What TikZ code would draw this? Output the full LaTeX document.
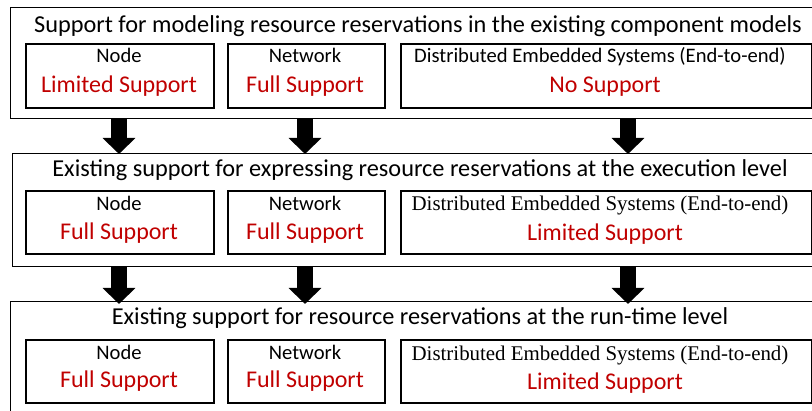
\documentclass[tikz,border=0pt]{standalone}
\usepackage{fontspec}
\setmainfont{Carlito}
\newfontfamily\serifdes{Liberation Serif}
\usetikzlibrary{arrows.meta}
\definecolor{supred}{RGB}{192,0,0}

\begin{document}
\begin{tikzpicture}[x=1pt,y=-1pt,
  outerbox/.style={draw=black, line width=1.3pt, anchor=north west, inner sep=0pt},
  innerbox/.style={draw=black, line width=1.7pt, anchor=north west, inner sep=0pt},
  titletext/.style={anchor=base, inner sep=0pt, font=\fontsize{24.3}{25}\selectfont},
  lbl/.style={anchor=base, inner sep=0pt, font=\fontsize{20.6}{21}\selectfont},
  deslbl/.style={anchor=base, inner sep=0pt, font=\serifdes\fontsize{20.9}{21}\selectfont},
  status/.style={anchor=base, inner sep=0pt, text=supred, font=\fontsize{24}{24}\selectfont},
  bigarrow/.style={line width=16pt, line cap=butt, -{Triangle[width=32pt,length=16pt]}}
]
\useasboundingbox (0,0) rectangle (812,411);
\clip (0,0) rectangle (812,411);

% ---- level 1: component models ----
\node[outerbox, minimum width=820pt, minimum height=111pt] (r1) at (10,7) {};
\node[titletext] (t1) at (418,33) {Support for modeling resource reservations in the existing component models};
\node[innerbox, minimum width=188pt, minimum height=64pt] (n1) at (25,43) {};
\node[innerbox, minimum width=157pt, minimum height=64pt] (w1) at (227,43) {};
\node[innerbox, minimum width=411pt, minimum height=64pt] (d1) at (400,43) {};
\node[lbl] (n1a) at (119,63) {Node};
\node[status] (n1b) at (119,93) {Limited Support};
\node[lbl] (w1a) at (305,63) {Network};
\node[status] (w1b) at (305,93) {Full Support};
\node[lbl] (d1a) at (600,63) {Distributed Embedded Systems (End-to-end)};
\node[status] (d1b) at (605,93) {No Support};

% ---- level 2: execution level ----
\node[outerbox, minimum width=820pt, minimum height=113pt] (r2) at (12,153) {};
\node[titletext] (t2) at (420,177) {Existing support for expressing resource reservations at the execution level};
\node[innerbox, minimum width=188pt, minimum height=63pt] (n2) at (25,190) {};
\node[innerbox, minimum width=157pt, minimum height=63pt] (w2) at (227,190) {};
\node[innerbox, minimum width=411pt, minimum height=63pt] (d2) at (400,190) {};
\node[lbl] (n2a) at (119,211) {Node};
\node[status] (n2b) at (119,240) {Full Support};
\node[lbl] (w2a) at (305,211) {Network};
\node[status] (w2b) at (305,240) {Full Support};
\node[deslbl] (d2a) at (600,211) {Distributed Embedded Systems (End-to-end)};
\node[status] (d2b) at (605,241) {Limited Support};

% ---- level 3: run-time level ----
\node[outerbox, minimum width=820pt, minimum height=130pt] (r3) at (10,301) {};
\node[titletext] (t3) at (420,325) {Existing support for resource reservations at the run-time level};
\node[innerbox, minimum width=188pt, minimum height=63pt] (n3) at (25,339) {};
\node[innerbox, minimum width=157pt, minimum height=63pt] (w3) at (227,339) {};
\node[innerbox, minimum width=411pt, minimum height=63pt] (d3) at (400,339) {};
\node[lbl] (n3a) at (119,360) {Node};
\node[status] (n3b) at (119,388) {Full Support};
\node[lbl] (w3a) at (305,360) {Network};
\node[status] (w3b) at (305,388) {Full Support};
\node[deslbl] (d3a) at (600,361) {Distributed Embedded Systems (End-to-end)};
\node[status] (d3b) at (605,390) {Limited Support};

% ---- arrows between levels ----
\coordinate (ax1) at (119,0);
\coordinate (ax2) at (305,0);
\coordinate (ax3) at (628,0);
\foreach \c in {ax1,ax2,ax3}{
  \draw[bigarrow] (r1.south -| \c) -- ([yshift=-1pt]r2.north -| \c);
  \draw[bigarrow] (r2.south -| \c) -- ([yshift=-3pt]r3.north -| \c);
}
\end{tikzpicture}
\end{document}
